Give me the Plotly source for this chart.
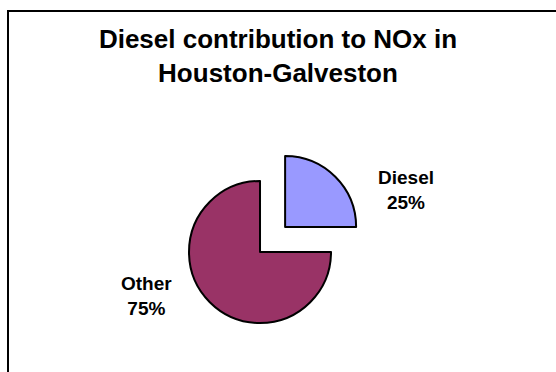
import plotly.graph_objects as go

# Share of NOx emissions in the Houston-Galveston area
sources = ["Diesel", "Other"]
shares = [25, 75]
slice_colors = ["#9999FF", "#993366"]
pulls = [0.5, 0]

# Label anchor points (paper coordinates) for each slice's caption
label_x = [406 / 556, 146 / 556]
label_y = [1 - 190 / 372, 1 - 296 / 372]

W, H = 556, 372
FONT = "Liberation Sans, Arial, Helvetica, sans-serif"

fig = go.Figure(
    go.Pie(
        labels=sources,
        values=shares,
        sort=False,
        direction="clockwise",
        rotation=0,
        pull=pulls,
        marker=dict(colors=slice_colors, line=dict(color="black", width=2)),
        textinfo="none",
        hoverinfo="label+percent",
        showlegend=False,
        domain=dict(x=[0.2761, 0.6592], y=[0.0363, 0.6089]),
    )
)

total = sum(shares)
annotations = []
for name, val, ax, ay in zip(sources, shares, label_x, label_y):
    pct = round(val / total * 100)
    annotations.append(
        dict(
            x=ax, y=ay, xref="paper", yref="paper",
            xanchor="center", yanchor="middle",
            text=f"<b>{name}</b><br><b>{pct}%</b>",
            showarrow=False, align="center",
            font=dict(family=FONT, size=19, color="black"),
        )
    )

fig.update_layout(
    width=W, height=H,
    margin=dict(l=0, r=0, t=0, b=0),
    paper_bgcolor="white",
    plot_bgcolor="white",
    title=dict(
        text="<b>Diesel contribution to NOx in<br>Houston-Galveston</b>",
        x=0.5, xanchor="center",
        y=1 - 48 / H, yref="container", yanchor="top",
        font=dict(family=FONT, size=26, color="black"),
    ),
    annotations=annotations,
    shapes=[
        dict(
            type="rect", xref="paper", yref="paper",
            x0=8 / W, x1=1.05, y0=-0.05, y1=1 - 11 / H,
            line=dict(color="black", width=2),
            fillcolor="rgba(0,0,0,0)",
        )
    ],
)

fig.write_html("out.html")
